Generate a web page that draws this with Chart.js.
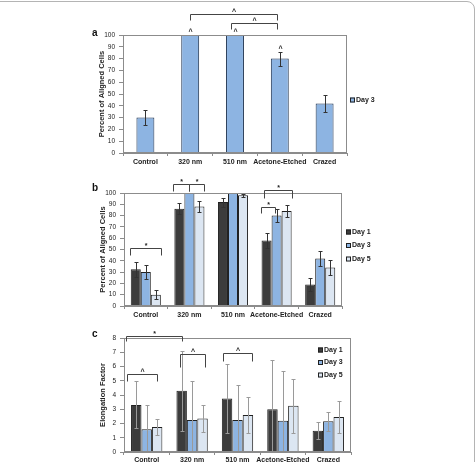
<!DOCTYPE html>
<html lang="en">
<head>
<meta charset="UTF-8">
<title>Aligned cells and elongation factor</title>
<script src="https://cdn.jsdelivr.net/npm/chart.js@4.4.0/dist/chart.umd.min.js"></script>
<style>
    body, html { margin: 0; padding: 0; background: #fff; overflow: hidden; }
    .frame { position: absolute; left: -10px; top: 1px; width: 483px; height: 480px; border: 1px solid #b4b4b4; border-radius: 8px; }
    .panel { position: absolute; left: 0; width: 475px; }
</style>
</head>
<body>
<div class="frame"></div>
<div class="panel" style="top:0;height:170px"><canvas id="chartA"></canvas></div>
<div class="panel" style="top:170px;height:150px"><canvas id="chartB"></canvas></div>
<div class="panel" style="top:320px;height:142px"><canvas id="chartC"></canvas></div>

<script>
    const categories = ['Control', '320 nm', '510 nm', 'Acetone-Etched', 'Crazed'];

    // panel a - percent aligned, day 3 only
    const aDay3 = [30, 100, 100, 80, 42];
    const aDay3Err = [6.5, 0, 0, 6, 7];

    // panel b - percent aligned by day
    const bDay1 = [32.5, 86, 92, 58, 19];
    const bDay1Err = [6.5, 5, 4, 7, 6];
    const bDay3 = [30, 100, 100, 80, 42];
    const bDay3Err = [6, 0, 0, 6, 7];
    const bDay5 = [10, 88, 98, 84, 34];
    const bDay5Err = [4, 5, 1.5, 5, 7];

    // panel c - elongation factor by day
    const cDay1 = [3.3, 4.3, 3.75, 3.0, 1.5];
    const cDay1Err = [1.65, 2.8, 2.45, 3.45, 0.6];
    const cDay3 = [1.6, 2.25, 2.25, 2.2, 2.15];
    const cDay3Err = [1.7, 2.75, 2.45, 3.5, 0.65];
    const cDay5 = [1.75, 2.35, 2.6, 3.25, 2.45];
    const cDay5Err = [0.55, 0.95, 1.25, 1.9, 1.1];

    const DARK = '#3c3c3c', BLUE = '#8db4e2', LIGHT = '#dce6f2', EDGE = '#202020';

    Chart.defaults.font.family = "'Liberation Sans', Arial, sans-serif";
    Chart.defaults.color = '#222';

    // frame, error bars, significance brackets, legend and panel letter
    const decor = {
        id: 'decor',
        afterDatasetsDraw(chart, args, opts) {
            const ctx = chart.ctx, area = chart.chartArea, ys = chart.scales.y;
            ctx.save();
            ctx.beginPath();
            ctx.rect(area.left, area.top, area.right - area.left, area.bottom - area.top);
            ctx.clip();
            ctx.strokeStyle = opts.errColor;
            ctx.lineWidth = 1;
            chart.data.datasets.forEach((ds, i) => {
                chart.getDatasetMeta(i).data.forEach((bar, j) => {
                    const e = ds.errors[j];
                    if (!e) return;
                    const v = ds.data[j];
                    const x = Math.round(bar.x) + 0.5;
                    const y1 = Math.round(ys.getPixelForValue(v + e)) + 0.5;
                    const y2 = Math.round(ys.getPixelForValue(v - e)) + 0.5;
                    ctx.beginPath();
                    ctx.moveTo(x, y1); ctx.lineTo(x, y2);
                    ctx.moveTo(x - 2, y1); ctx.lineTo(x + 2, y1);
                    ctx.moveTo(x - 2, y2); ctx.lineTo(x + 2, y2);
                    ctx.stroke();
                });
            });
            ctx.restore();
        },
        afterDraw(chart, args, opts) {
            const ctx = chart.ctx, area = chart.chartArea, ys = chart.scales.y;
            const px = ([d, i, f]) => {
                const bar = chart.getDatasetMeta(d).data[i];
                return Math.round(bar.x + f * bar.width / 2) + 0.5;
            };
            ctx.save();
            ctx.strokeStyle = '#8c8c8c';
            ctx.lineWidth = 1;
            ctx.strokeRect(area.left + 0.5, area.top + 0.5, area.right - area.left - 1, area.bottom - area.top - 1);

            ctx.strokeStyle = '#444';
            ctx.fillStyle = '#222';
            ctx.textAlign = 'center';
            ctx.textBaseline = 'alphabetic';
            (opts.brackets || []).forEach(b => {
                const xa = px(b.from), xb = px(b.to);
                const yl = Math.round(ys.getPixelForValue(b.level)) + 0.5;
                const yd = Math.round(ys.getPixelForValue(b.level - b.drop)) + 0.5;
                ctx.beginPath();
                ctx.moveTo(xa, yd); ctx.lineTo(xa, yl); ctx.lineTo(xb, yl); ctx.lineTo(xb, yd);
                ctx.stroke();
                ctx.font = "bold 7px 'Liberation Sans', Arial";
                ctx.fillText(b.text, (xa + xb) / 2, yl - 1);
            });
            (opts.marks || []).forEach(m => {
                const [d, i] = m.at;
                const ds = chart.data.datasets[d];
                const top = ds.data[i] + (ds.errors[i] || 0);
                ctx.font = "bold 7px 'Liberation Sans', Arial";
                ctx.fillText(m.text, px([d, i, 0]), ys.getPixelForValue(top) - 1);
            });

            if (opts.legend) {
                const lg = opts.legend;
                ctx.textAlign = 'left';
                ctx.textBaseline = 'middle';
                ctx.font = "bold 7px 'Liberation Sans', Arial";
                chart.data.datasets.forEach((ds, i) => {
                    const y = lg.y + i * lg.dy;
                    ctx.fillStyle = ds.backgroundColor;
                    ctx.fillRect(lg.x, y - 2.5, 5, 5);
                    ctx.strokeStyle = EDGE;
                    ctx.strokeRect(lg.x + 0.5, y - 2, 4, 4);
                    ctx.fillStyle = '#222';
                    ctx.fillText(ds.label, lg.x + 6, y);
                });
            }

            if (opts.letter) {
                ctx.font = "bold 10px 'Liberation Sans', Arial";
                ctx.textAlign = 'left';
                ctx.textBaseline = 'middle';
                ctx.fillStyle = '#111';
                ctx.fillText(opts.letter.text, opts.letter.x, opts.letter.y);
            }
            ctx.restore();
        }
    };

    function makeChart(id, datasets, cfg) {
        return new Chart(document.getElementById(id), {
            type: 'bar',
            data: { labels: categories, datasets: datasets },
            plugins: [decor],
            options: {
                responsive: true,
                maintainAspectRatio: false,
                animation: false,
                layout: { padding: cfg.padding },
                datasets: {
                    bar: {
                        categoryPercentage: cfg.catPct,
                        barPercentage: 1.0,
                        borderWidth: 1,
                        borderColor: EDGE
                    }
                },
                scales: {
                    x: {
                        grid: { display: true, drawOnChartArea: false, offset: true, tickLength: 3, color: '#8c8c8c' },
                        border: { display: true, color: '#8c8c8c' },
                        ticks: { font: { size: 7, weight: 'bold' }, padding: cfg.xPad, maxRotation: 0, autoSkip: false },
                        afterFit: s => { s.height = cfg.xHeight; }
                    },
                    y: {
                        min: 0,
                        max: cfg.yMax,
                        ticks: { stepSize: cfg.yStep, font: { size: 6.5 }, padding: 4 },
                        grid: { display: true, drawOnChartArea: false, tickLength: 4, color: '#8c8c8c' },
                        border: { display: true, color: '#8c8c8c' },
                        title: { display: true, text: cfg.yTitle, font: { size: 7.5, weight: 'bold' }, padding: { top: 4, bottom: 0 } },
                        afterFit: s => { s.width = 30; }
                    }
                },
                plugins: {
                    legend: { display: false },
                    tooltip: { enabled: false },
                    decor: cfg.decor
                }
            }
        });
    }

    makeChart('chartA', [
        { label: 'Day 3', data: aDay3, errors: aDay3Err, backgroundColor: BLUE, borderColor: '#1f3350' }
    ], {
        padding: { left: 93, right: 128, top: 35, bottom: 3 },
        catPct: 0.4, xHeight: 14, xPad: 2,
        yMax: 100, yStep: 10, yTitle: 'Percent of Aligned Cells',
        decor: {
            errColor: '#333',
            letter: { text: 'a', x: 92, y: 33 },
            legend: { x: 350, y: 100, dy: 0 },
            brackets: [
                { from: [0, 1, 0], to: [0, 3, -0.3], level: 118, drop: 5, text: '^' },
                { from: [0, 2, -0.5], to: [0, 3, -0.3], level: 110.5, drop: 5, text: '^' }
            ],
            marks: [
                { at: [0, 1], text: '^' },
                { at: [0, 2], text: '^' },
                { at: [0, 3], text: '^' }
            ]
        }
    });

    makeChart('chartB', [
        { label: 'Day 1', data: bDay1, errors: bDay1Err, backgroundColor: DARK },
        { label: 'Day 3', data: bDay3, errors: bDay3Err, backgroundColor: BLUE },
        { label: 'Day 5', data: bDay5, errors: bDay5Err, backgroundColor: LIGHT }
    ], {
        padding: { left: 94, right: 133, top: 23, bottom: 0 },
        catPct: 0.69, xHeight: 14, xPad: 2,
        yMax: 100, yStep: 10, yTitle: 'Percent of Aligned Cells',
        decor: {
            errColor: '#333',
            letter: { text: 'b', x: 92, y: 18 },
            legend: { x: 346, y: 62, dy: 13.5 },
            brackets: [
                { from: [0, 0, -1.2], to: [2, 0, 1], level: 51.3, drop: 6, text: '*' },
                { from: [0, 1, -1.2], to: [1, 1, 0], level: 108, drop: 6, text: '*' },
                { from: [1, 1, 0], to: [2, 1, 1], level: 108, drop: 6, text: '*' },
                { from: [0, 3, -0.5], to: [2, 3, 1], level: 102.7, drop: 7, text: '*' },
                { from: [0, 3, -1.2], to: [1, 3, -0.4], level: 87.6, drop: 5, text: '*' }
            ]
        }
    });

    makeChart('chartC', [
        { label: 'Day 1', data: cDay1, errors: cDay1Err, backgroundColor: DARK },
        { label: 'Day 3', data: cDay3, errors: cDay3Err, backgroundColor: BLUE },
        { label: 'Day 5', data: cDay5, errors: cDay5Err, backgroundColor: LIGHT }
    ], {
        padding: { left: 94, right: 124, top: 18, bottom: 0 },
        catPct: 0.69, xHeight: 10, xPad: 1,
        yMax: 8, yStep: 1, yTitle: 'Elongation Factor',
        decor: {
            errColor: '#9a9a9a',
            letter: { text: 'c', x: 92, y: 14 },
            legend: { x: 318, y: 30, dy: 12.5 },
            brackets: [
                { from: [0, 0, -1.9], to: [0, 1, 0], level: 8.14, drop: 0.35, text: '*' },
                { from: [0, 0, -1.7], to: [2, 0, 0], level: 5.47, drop: 0.5, text: '^' },
                { from: [0, 1, -0.4], to: [2, 1, 0.4], level: 6.88, drop: 0.9, text: '^' },
                { from: [0, 2, -0.7], to: [2, 2, 0.8], level: 6.95, drop: 0.56, text: '^' }
            ]
        }
    });
</script>
</body>
</html>
